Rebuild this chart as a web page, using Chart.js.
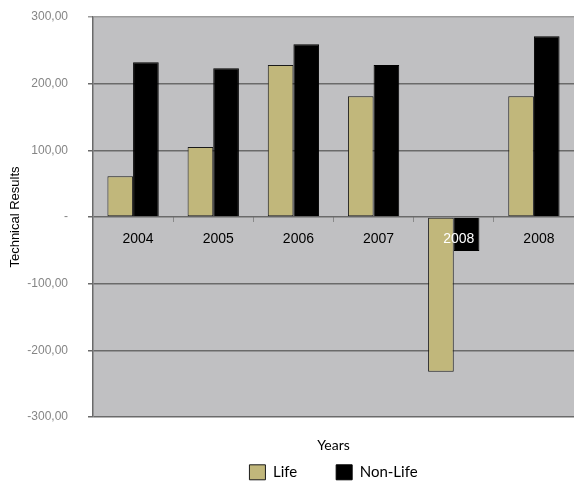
<!DOCTYPE html>
<html lang="en">
<head>
  <meta charset="UTF-8">
  <title>Technical Results</title>
  <script src="https://cdn.jsdelivr.net/npm/chart.js"></script>
  <style>
    html, body {
      margin: 0;
      padding: 0;
      background: #ffffff;
      overflow: hidden;
    }
    #wrap {
      width: 574px;
      height: 483px;
    }
  </style>
</head>
<body>
  <div id="wrap"><canvas id="resultsChart"></canvas></div>

  <script>
    const years = ['2004', '2005', '2006', '2007', '2008', '2008'];
    const lifeValues = [61, 105, 228, 181, -232, 181];
    const nonLifeValues = [232, 223, 259, 228, -51, 271];
    const yTicks = [-300, -200, -100, 0, 100, 200, 300];

    // grey plot background
    const plotBackground = {
      id: 'plotBackground',
      beforeDraw(chart) {
        const a = chart.chartArea;
        const ctx = chart.ctx;
        ctx.save();
        ctx.fillStyle = '#c0c0c2';
        ctx.fillRect(a.left, a.top, a.right - a.left, a.bottom - a.top);
        ctx.restore();
      }
    };

    const ctx = document.getElementById('resultsChart').getContext('2d');
    new Chart(ctx, {
      type: 'bar',
      data: {
        labels: years,
        datasets: [{
          label: 'Life',
          data: lifeValues,
          backgroundColor: '#c1b77b',
          borderColor: '#1a1a1a',
          borderWidth: 1,
          borderSkipped: false
        }, {
          label: 'Non-Life',
          data: nonLifeValues,
          backgroundColor: '#000000',
          borderColor: '#000000',
          borderWidth: 1
        }]
      },
      options: {
        responsive: true,
        maintainAspectRatio: false,
        animation: false,
        layout: { padding: 0 },
        datasets: {
          bar: { categoryPercentage: 0.64, barPercentage: 1.0 }
        },
        scales: {
          x: {
            position: { y: 0 },
            offset: true,
            grid: {
              display: true,
              offset: true,
              drawOnChartArea: false,
              drawTicks: true,
              tickLength: 5,
              color: '#8a8a8a'
            },
            border: { display: false },
            ticks: {
              z: 1,
              padding: 9,
              labelOffset: 5,
              color: c => c.index === 4 ? '#ffffff' : '#000000',
              font: { family: 'Liberation Sans, Arial, sans-serif', size: 14 }
            }
          },
          y: {
            min: -300,
            max: 300,
            afterBuildTicks: s => { s.ticks = yTicks.map(v => ({ value: v })); },
            afterFit: s => {
              s.width = 93;
              s.paddingTop = 17;
              s.paddingBottom = 7;
            },
            grid: {
              color: c => (c.tick && c.tick.value === 300) ? '#9c9c9c' : '#6a6a6a',
              lineWidth: 1.5,
              tickLength: 5
            },
            border: { color: '#6a6a6a', width: 1.5 },
            ticks: {
              padding: 20,
              color: '#858585',
              font: { family: 'Liberation Sans, Arial, sans-serif', size: 12 },
              callback: v => v === 0 ? '-' : v.toFixed(2).replace('.', ',')
            },
            title: {
              display: true,
              text: 'Technical Results',
              color: '#000000',
              padding: { top: 8, bottom: 0 },
              font: { family: 'Liberation Sans, Arial, sans-serif', size: 13 }
            }
          }
        },
        plugins: {
          tooltip: { enabled: false },
          legend: {
            position: 'bottom',
            fullSize: false,
            maxHeight: 66,
            title: {
              display: true,
              text: 'Years',
              color: '#000000',
              font: { family: 'Lato, sans-serif', size: 14 },
              padding: { top: 21, bottom: -29 }
            },
            labels: {
              boxWidth: 16,
              boxHeight: 15,
              padding: 39,
              color: '#000000',
              font: { family: 'Lato, sans-serif', size: 15 }
            }
          }
        }
      },
      plugins: [plotBackground]
    });
  </script>
</body>
</html>
